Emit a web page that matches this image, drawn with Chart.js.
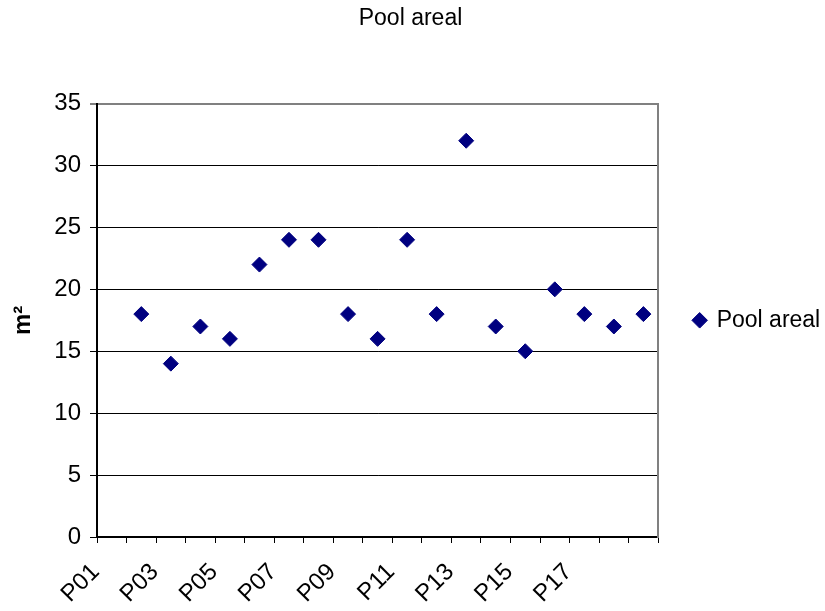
<!DOCTYPE html>
<html>
<head>
<meta charset="utf-8">
<title>Pool areal</title>
<script src="https://cdn.jsdelivr.net/npm/chart.js@4"></script>
<style>
    body { margin: 0; background: #fff; }
    #wrap { width: 825px; height: 611px; }
</style>
</head>
<body>
<div id="wrap"><canvas id="poolChart"></canvas></div>
<script>
// categorias do eixo x (P01 fica sem valor)
const categories = ['P01', 'P02', 'P03', 'P04', 'P05', 'P06', 'P07', 'P08', 'P09', 'P10',
    'P11', 'P12', 'P13', 'P14', 'P15', 'P16', 'P17', 'P18', 'P19'];
const tickLabels = ['P01', 'P03', 'P05', 'P07', 'P09', 'P11', 'P13', 'P15', 'P17'];
const poolAreal = [null, 18, 14, 17, 16, 22, 24, 24, 18, 16, 24, 18, 32, 17, 15, 20, 18, 17, 18];
const yTicks = [0, 5, 10, 15, 20, 25, 30, 35];

Chart.defaults.font.family = '"Liberation Sans", Arial, sans-serif';
Chart.defaults.color = '#000';

function inicializarGrafico() {
    const ctx = document.getElementById('poolChart').getContext('2d');
    new Chart(ctx, {
        type: 'line',
        data: {
            labels: categories,
            datasets: [{
                label: 'Pool areal',
                data: poolAreal,
                showLine: false,
                pointStyle: 'rectRot',
                pointRadius: 7.5,
                pointHoverRadius: 7.5,
                borderWidth: 1,
                borderColor: '#000080',
                backgroundColor: '#000080'
            }]
        },
        options: {
            responsive: true,
            maintainAspectRatio: false,
            animation: false,
            layout: { padding: { left: 0, top: 0, bottom: 0, right: 4 } },
            plugins: {
                title: {
                    display: true,
                    text: 'Pool areal',
                    color: '#000',
                    font: { size: 23, weight: 'normal' },
                    padding: { top: 5, bottom: 71 }
                },
                legend: {
                    position: 'right',
                    fullSize: false,
                    labels: {
                        usePointStyle: true,
                        boxWidth: 11,
                        boxHeight: 11,
                        padding: 10,
                        color: '#000',
                        font: { size: 23 }
                    }
                },
                tooltip: { enabled: false }
            },
            scales: {
                x: {
                    offset: true,
                    grid: {
                        offset: true,
                        drawOnChartArea: false,
                        drawTicks: true,
                        tickLength: 6,
                        tickColor: '#000'
                    },
                    border: { color: '#000', width: 2 },
                    ticks: {
                        autoSkip: false,
                        minRotation: 45,
                        maxRotation: 45,
                        padding: 15,
                        labelOffset: -16,
                        font: { size: 24 },
                        color: '#000',
                        callback: function(val, index) {
                            const nome = categories[index];
                            return tickLabels.includes(nome) ? nome : '';
                        }
                    },
                    afterFit: function(scale) { scale.height = 74; }
                },
                y: {
                    min: yTicks[0],
                    max: yTicks[yTicks.length - 1],
                    afterBuildTicks: function(scale) {
                        scale.ticks = yTicks.map(v => ({ value: v }));
                    },
                    grid: {
                        color: c => c.tick && c.tick.value === 35 ? '#808080' : '#000',
                        lineWidth: c => c.tick && c.tick.value === 35 ? 2 : 1,
                        tickLength: 7
                    },
                    border: { color: '#000', width: 2 },
                    ticks: {
                        padding: 9,
                        font: { size: 24 },
                        color: '#000'
                    },
                    title: {
                        display: true,
                        text: 'm²',
                        color: '#000',
                        font: { size: 24, weight: 'bold' },
                        padding: { top: 9, bottom: 0 }
                    },
                    afterFit: function(scale) { scale.width = 97; }
                },
                y2: {
                    position: 'right',
                    min: 0,
                    max: 35,
                    ticks: { display: false },
                    grid: { drawOnChartArea: false, drawTicks: false },
                    border: { color: '#808080', width: 2 },
                    afterFit: function(scale) { scale.width = 26; }
                }
            }
        }
    });
}

document.addEventListener("DOMContentLoaded", function() {
    inicializarGrafico();
});
</script>
</body>
</html>
